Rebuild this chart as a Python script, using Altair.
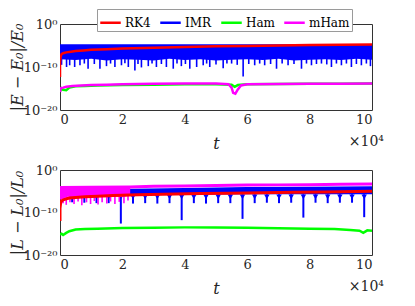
import altair as alt
import pandas as pd

SERIES = ["RK4", "IMR", "Ham", "mHam"]
COLORS = ["#ff0000", "#0000ff", "#00ff00", "#ff00ff"]
X_TICKS = [0, 2, 4, 6, 8, 10]
Y_TICKS = [1e-20, 1e-10, 1.0]

# ---------------- top panel: |E-E0|/E0 (log10 values), t in units of 1e4 ----------------
E_RK4_t = [0, 0.0, 0.02, 0.05, 0.1, 0.2, 0.35, 0.5, 0.75, 1, 1.5, 2, 3, 4, 5, 6, 7, 8, 9, 10]
E_RK4_v = [-12.3, -9.0, -7.6, -7.0, -6.8, -6.6, -6.45, -6.3, -6.15, -6.0, -5.85, -5.7, -5.5, -5.35, -5.2, -5.1, -5.0, -4.9, -4.8, -4.75]

E_IMR_t = [0, 0.5, 1, 1.5, 2, 2.5, 3, 3.5, 4, 4.5, 5, 5.5, 6, 6.5, 7, 7.5, 8, 8.5, 9, 9.5, 10]
E_IMR_hi = [-4.9] * 21
E_IMR_lo = [-8.2, -8.4, -8.1, -8.5, -8.2, -8.3, -8.5, -8.1, -8.4, -8.2, -8.5, -8.3, -8.2, -8.4, -8.1, -8.5, -8.3, -8.2, -8.4, -8.1, -8.3]
E_IMR_spike_t = [0.05, 0.21, 0.31, 0.47, 0.64, 0.78, 0.9, 1.1, 1.28, 1.49, 1.62, 1.76, 1.97, 2.08, 2.19, 2.4, 2.5,
                 2.61, 2.83, 2.95, 3.09, 3.25, 3.41, 3.63, 3.75, 3.89, 4.02, 4.16, 4.38, 4.59, 4.7, 4.8, 5.0, 5.23,
                 5.35, 5.5, 5.68, 5.87, 6.05, 6.24, 6.4, 6.56, 6.75, 6.94, 7.12, 7.31, 7.5, 7.74, 7.9, 8.06, 8.22,
                 8.38, 8.55, 8.7, 8.86, 9.02, 9.18, 9.34, 9.5, 9.66, 9.82, 9.95]
E_IMR_spike_v = [-9.5, -10.0, -9.6, -10.0, -9.6, -9.2, -10.4, -9.3, -10.4, -9.8, -9.2, -10.0, -9.6, -9.1, -10.0, -10.8, -9.3,
                 -10.1, -9.8, -9.2, -10.0, -9.3, -10.0, -10.4, -9.2, -9.8, -9.3, -10.4, -10.0, -9.6, -9.2, -10.0, -9.4, -10.3,
                 -9.2, -9.2, -9.5, -12.2, -9.3, -9.6, -9.2, -9.6, -9.3, -10.4, -9.2, -9.6, -9.3, -10.4, -9.2, -9.6, -9.3,
                 -9.2, -9.4, -10.0, -9.2, -9.6, -9.2, -10.0, -9.3, -9.6, -9.2, -9.8]
E_IMR_spike_base = -7.8

E_Ham_t = [0, 0.05, 0.1, 0.2, 0.3, 0.5, 0.8, 1.2, 2, 3, 4, 5, 5.5, 5.6, 5.7, 6, 7, 8, 9, 10]
E_Ham_v = [-15.6, -15.0, -15.3, -15.4, -14.8, -14.5, -14.4, -14.3, -14.2, -14.1, -14.0, -14.0, -14.1, -14.6, -14.2, -14.0, -13.95, -13.9, -13.9, -13.85]

E_mHam_t = [0, 0.03, 0.1, 0.2, 0.4, 0.7, 1, 1.5, 2, 3, 4, 5, 5.4, 5.5, 5.55, 5.62, 5.7, 5.8, 6, 7, 8, 9, 10]
E_mHam_v = [-15.8, -14.9, -14.8, -14.6, -14.4, -14.3, -14.2, -14.1, -14.0, -13.9, -13.85, -13.85, -14.0, -14.8, -16.0, -16.2, -15.2, -14.3, -14.0, -13.95, -13.9, -13.9, -13.85]

# ---------------- bottom panel: |L-L0|/L0 ----------------
L_RK4_t = [0, 0.0, 0.02, 0.04, 0.08, 0.15, 0.3, 0.5, 0.8, 1.2, 1.7, 2.5, 3.3, 4.5, 5.4, 6.5, 7.5, 8.5, 10]
L_RK4_v = [-12.0, -9.0, -7.8, -7.4, -7.1, -6.9, -6.6, -6.45, -6.3, -6.15, -6.0, -5.85, -5.7, -5.55, -5.45, -5.35, -5.25, -5.15, -5.0]

L_IMR_t = [0, 2.3, 4, 6, 8, 10]
L_IMR_hi = [-4.6, -4.6, -4.4, -4.2, -4.1, -4.0]
L_IMR_lo = [-5.9, -5.9, -5.8, -5.7, -5.7, -5.7]
L_IMR_dip_t = [0.39, 0.78, 1.17, 1.56, 1.95, 2.34, 2.73, 3.12, 3.51, 3.9, 4.29, 4.68, 5.07, 5.46, 5.85,
               6.24, 6.63, 7.02, 7.41, 7.8, 8.19, 8.58, 8.97, 9.36, 9.75]
L_IMR_dip_v = [-7.6, -7.7, -7.8, -7.8, -12.6, -7.9, -7.8, -7.9, -7.8, -11.8, -7.8, -7.9, -7.8, -7.8, -11.5,
               -7.8, -7.7, -7.8, -7.7, -11.2, -7.7, -7.8, -7.7, -7.7, -11.1]
L_IMR_dip_base = -5.7
L_IMR_cusp = -6.3

L_Ham_t = [0, 0.05, 0.1, 0.2, 0.3, 0.5, 0.8, 1.2, 2, 3, 4, 5, 6, 7, 8, 8.8, 9.3, 9.6, 9.72, 9.85, 10]
L_Ham_v = [-15.2, -15.0, -15.3, -14.8, -14.4, -14.0, -13.9, -13.8, -13.65, -13.6, -13.5, -13.55, -13.6, -13.7, -13.8, -13.9, -14.1, -14.3, -14.8, -14.2, -14.3]

L_mHam_band_t = [0, 0.25, 0.5, 0.75, 1.0, 1.25, 1.5, 1.75, 2.0, 2.25]
L_mHam_band_hi = [-4.1, -4.1, -4.1, -4.1, -4.05, -4.05, -4.05, -4.0, -4.0, -4.0]
L_mHam_band_lo = [-7.0, -6.3, -6.4, -6.2, -6.5, -6.3, -6.4, -6.2, -6.4, -6.0]
L_mHam_spike_t = [0.1, 0.2, 0.32, 0.45, 0.58, 0.7, 0.85, 0.98, 1.1, 1.22, 1.35, 1.5, 1.62, 1.76, 1.9, 2.05, 2.18]
L_mHam_spike_v = [-7.8, -8.2, -7.6, -8.0, -7.4, -8.3, -7.6, -8.0, -7.3, -8.1, -7.6, -7.9, -7.4, -8.0, -7.5, -7.8, -7.2]
L_mHam_spike_base = -6.0
L_mHam_t = [0, 1, 2.25, 3, 4, 5, 6, 7, 8, 9, 10]
L_mHam_v = [-4.1, -4.05, -4.0, -3.85, -3.75, -3.65, -3.55, -3.5, -3.45, -3.35, -3.3]

# ---------------- helpers ----------------
FONT = "DejaVu Serif"
W, H1, H2 = 312, 86, 85


def p10(v):
    return [10.0 ** e for e in v]


def line_df(t, v, s):
    return pd.DataFrame({"t": t, "v": p10(v), "s": s})


def band_df(t, hi, lo):
    return pd.DataFrame({"t": t, "v": p10(hi), "lo": p10(lo)})


def rule_df(t, base, tip):
    return pd.DataFrame({"t": t, "v": p10([base] * len(t)), "lo": p10(tip)})


color_scale = alt.Scale(domain=SERIES, range=COLORS)
legend = alt.Legend(title=None, orient="none", legendX=37, legendY=-15, direction="horizontal",
                    columns=4, symbolType="stroke", symbolStrokeWidth=2.5, symbolSize=420,
                    labelFont=FONT, labelFontSize=12, labelColor="black", labelOffset=3,
                    columnPadding=4, strokeColor="#9a9a9a", fillColor="white", padding=2)


def enc_x():
    return alt.X("t:Q", scale=alt.Scale(domain=[0, 10], nice=False),
                 axis=alt.Axis(values=X_TICKS, title="t", format="d"))


def enc_y(title):
    return alt.Y("v:Q", scale=alt.Scale(type="log", domain=[1e-20, 1], nice=False),
                 axis=alt.Axis(values=Y_TICKS, title=title,
                               labelExpr="datum.value > 0.5 ? '10⁰' : (datum.value > 1e-15 ? '10⁻¹⁰' : '10⁻²⁰')"))


def line(df, title, width=2.5):
    return alt.Chart(df).mark_line(strokeWidth=width, clip=True).encode(
        x=enc_x(), y=enc_y(title),
        color=alt.Color("s:N", scale=color_scale, legend=legend))


def area(df, title, col):
    return alt.Chart(df).mark_area(color=col, opacity=1, clip=True).encode(
        x=enc_x(), y=enc_y(title), y2="lo:Q")


def rules(df, title, col, width=1.6):
    return alt.Chart(df).mark_rule(color=col, strokeWidth=width, clip=True).encode(
        x=enc_x(), y=enc_y(title), y2="lo:Q")


def x_mult(h):
    return alt.Chart(pd.DataFrame({"a": [0]})).mark_text(
        text="×10⁴", font=FONT, fontSize=14, align="right", baseline="middle", dx=12,
        color="#262626").encode(x=alt.datum(10), y=alt.value(h + 32))


ET = "|E − E₀|/E₀"
LT = "|L − L₀|/L₀"

top = alt.layer(
    area(band_df(E_IMR_t, E_IMR_hi, E_IMR_lo), ET, COLORS[1]),
    rules(rule_df(E_IMR_spike_t, E_IMR_spike_base, E_IMR_spike_v), ET, COLORS[1]),
    line(line_df(E_IMR_t, E_IMR_hi, "IMR"), ET, 1.5),
    line(line_df(E_Ham_t, E_Ham_v, "Ham"), ET),
    line(line_df(E_mHam_t, E_mHam_v, "mHam"), ET),
    line(line_df(E_RK4_t, E_RK4_v, "RK4"), ET),
    x_mult(H1),
).properties(width=W, height=H1)

cusp_df = pd.DataFrame({"t": L_IMR_dip_t, "v": p10([L_IMR_cusp] * len(L_IMR_dip_t))})
cusps = alt.Chart(cusp_df).mark_point(shape="triangle-down", size=30, filled=True, opacity=1,
                                      color=COLORS[1]).encode(x=enc_x(), y=enc_y(LT))

bottom = alt.layer(
    area(band_df(L_IMR_t, L_IMR_hi, L_IMR_lo), LT, COLORS[1]),
    rules(rule_df(L_IMR_dip_t, L_IMR_dip_base, L_IMR_dip_v), LT, COLORS[1], 2),
    cusps,
    line(line_df(L_IMR_t, L_IMR_hi, "IMR"), LT, 1.5),
    line(line_df(L_Ham_t, L_Ham_v, "Ham"), LT),
    area(band_df(L_mHam_band_t, L_mHam_band_hi, L_mHam_band_lo), LT, COLORS[3]),
    rules(rule_df(L_mHam_spike_t, L_mHam_spike_base, L_mHam_spike_v), LT, COLORS[3]),
    line(line_df(L_mHam_t, L_mHam_v, "mHam"), LT, 3),
    line(line_df(L_RK4_t, L_RK4_v, "RK4"), LT, 3),
    x_mult(H2),
).properties(width=W, height=H2)

chart = alt.vconcat(top, bottom, spacing=60, bounds="flush").properties(
    padding={"left": 0, "top": 0, "right": 5, "bottom": 0}
).configure_view(stroke="#333333", strokeWidth=1).configure_axis(
    grid=False, domain=False, ticks=False, labelFont=FONT, labelFontSize=13, labelColor="#262626",
    titleFont=FONT, titleFontStyle="italic", titleFontWeight="normal", titleFontSize=16,
    titleColor="#262626", labelPadding=3
).configure_axisX(titlePadding=9).configure_axisY(titlePadding=0, minExtent=35, maxExtent=35)

chart.save("out.html", embed_options={"renderer": "svg", "actions": False})
